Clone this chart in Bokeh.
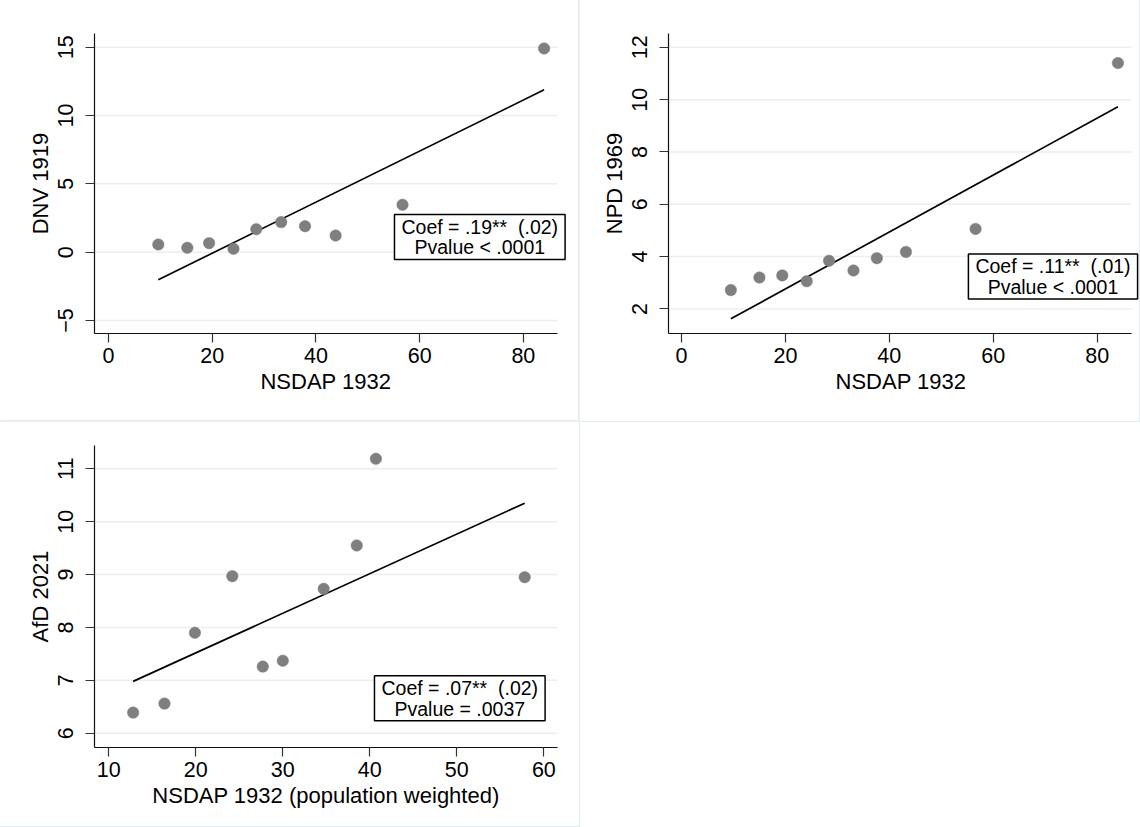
from bokeh.plotting import figure
from bokeh.layouts import column, row
from bokeh.models import Label, FixedTicker, Range1d
from bokeh.embed import file_html
from bokeh.resources import INLINE

FONT = "Liberation Sans"

# ---------------- data ----------------
# Panel 1: DNV 1919 vs NSDAP 1932
nsdap_1 = [9.6, 15.2, 19.4, 24.1, 28.5, 33.3, 37.9, 43.8, 56.7, 84.0]
dnv_1919 = [0.56, 0.32, 0.66, 0.25, 1.68, 2.20, 1.90, 1.22, 3.47, 14.9]
fit1_x = [9.6, 84.0]
fit1_y = [-2.02, 11.88]
ann1 = "Coef = .19** \u00a0(.02)\nPvalue < .0001"

# Panel 2: NPD 1969 vs NSDAP 1932
nsdap_2 = [9.5, 15.0, 19.4, 24.1, 28.4, 33.1, 37.6, 43.2, 56.6, 84.0]
npd_1969 = [2.72, 3.20, 3.28, 3.06, 3.84, 3.47, 3.94, 4.18, 5.06, 11.40]
fit2_x = [9.5, 84.0]
fit2_y = [1.62, 9.73]
ann2 = "Coef = .11** \u00a0(.01)\nPvalue < .0001"

# Panel 3: AfD 2021 vs NSDAP 1932 (population weighted)
nsdap_3 = [12.8, 16.4, 19.9, 24.2, 27.7, 30.0, 34.7, 38.5, 40.7, 57.8]
afd_2021 = [6.39, 6.56, 7.90, 8.97, 7.26, 7.37, 8.73, 9.55, 11.19, 8.95]
fit3_x = [12.8, 57.8]
fit3_y = [6.98, 10.35]
ann3 = "Coef = .07** \u00a0(.02)\nPvalue = .0037"

xticks_12 = [0, 20, 40, 60, 80]
yticks_1 = [-5, 0, 5, 10, 15]
yticks_2 = [2, 4, 6, 8, 10, 12]
xticks_3 = [10, 20, 30, 40, 50, 60]
yticks_3 = [6, 7, 8, 9, 10, 11]


def panel(width, height, borders, xr, x_axis_end, yr, xticks, yticks, xlabel, ylabel,
          xs, ys, fx, fy, text, ax, ay):
    left, right, top, bottom = borders
    p = figure(width=width, height=height, output_backend="svg",
               toolbar_location=None, x_range=Range1d(*xr), y_range=Range1d(*yr),
               min_border_left=left, min_border_right=right,
               min_border_top=top, min_border_bottom=bottom,
               background_fill_color="white", border_fill_color="white")
    p.styles = {"outline": "1px solid #e3ecee"}
    p.outline_line_color = None
    p.xgrid.grid_line_color = None
    p.ygrid.grid_line_color = None
    # horizontal grid lines at the y ticks, ending where the x axis ends
    p.segment(x0=[xr[0]] * len(yticks), x1=[x_axis_end] * len(yticks),
              y0=yticks, y1=yticks, line_color="#e8eff1", line_width=1.5)
    p.xaxis.ticker = FixedTicker(ticks=xticks)
    p.yaxis.ticker = FixedTicker(ticks=yticks)
    p.xaxis.bounds = (xr[0], x_axis_end)
    for ax_ in (p.xaxis, p.yaxis):
        ax_.axis_line_color = "#111111"
        ax_.axis_line_width = 1.2
        ax_.major_tick_line_color = "#333333"
        ax_.major_tick_line_width = 1.2
        ax_.major_tick_out = 9
        ax_.major_tick_in = 0
        ax_.minor_tick_line_color = None
        ax_.major_label_text_font = FONT
        ax_.major_label_text_font_size = "21.5px"
        ax_.major_label_text_color = "black"
        ax_.axis_label_text_font = FONT
        ax_.axis_label_text_font_size = "22px"
        ax_.axis_label_text_font_style = "normal"
        ax_.axis_label_text_color = "black"
    p.xaxis.axis_label = xlabel
    p.yaxis.axis_label = ylabel
    p.yaxis.major_label_orientation = "vertical"
    p.xaxis.major_label_standoff = 5
    p.xaxis.axis_label_standoff = 3
    p.yaxis.major_label_standoff = 12
    p.yaxis.axis_label_standoff = 3

    p.line(fx, fy, line_color="black", line_width=1.7)
    p.scatter(xs, ys, size=11.5, fill_color="#7f7f7f", line_color="#7f7f7f",
              line_width=0.5)

    lab = Label(x=ax, y=ay, text=text, text_align="center", text_baseline="middle",
                text_font=FONT, text_font_size="19.5px", text_color="black",
                text_line_height=0.95,
                border_line_color="black", border_line_width=1.5,
                background_fill_color="white", padding=(7, 1))
    p.add_layout(lab)
    return p


# the frames of the top panels reach a little past the x axis so that the
# annotation boxes are not cut; trailing no-break spaces keep the x titles
# centred under the axis itself
p1 = panel(579, 421, (94, 10, 33, 88), (-2.7, 88.9), 86.6, (-5.95, 16.0),
           xticks_12, yticks_1, "NSDAP 1932\u00a0\u00a0", "DNV 1919",
           nsdap_1, dnv_1919, fit1_x, fit1_y, ann1, 71.6, 1.11)
p2 = panel(560, 421, (89, 0, 33, 88), (-2.5, 88.15), 86.6, (1.06, 12.53),
           xticks_12, yticks_2, "NSDAP 1932\u00a0", "NPD 1969",
           nsdap_2, npd_1969, fit2_x, fit2_y, ann2, 71.5, 3.24)
p3 = panel(579, 405, (94, 22, 24, 79), (8.36, 61.57), 61.57, (5.73, 11.44),
           xticks_3, yticks_3, "NSDAP 1932 (population weighted)", "AfD 2021",
           nsdap_3, afd_2021, fit3_x, fit3_y, ann3, 50.34, 6.66)

layout = column(row(p1, p2), p3)
open("out.html", "w").write(file_html(layout, INLINE))
